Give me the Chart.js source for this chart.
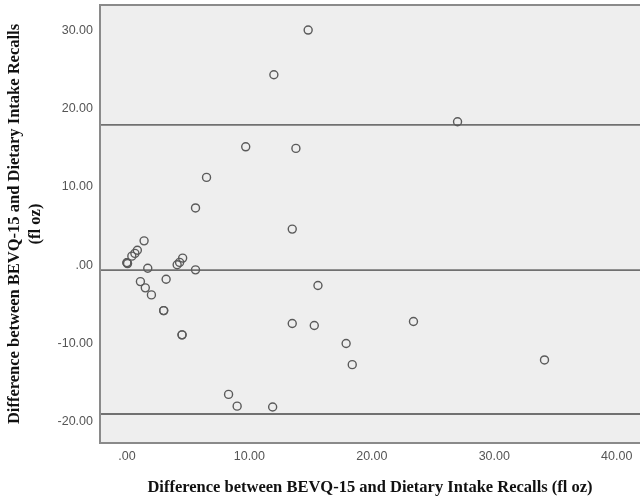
<!DOCTYPE html>
<html>
<head>
<meta charset="utf-8">
<script src="https://cdn.jsdelivr.net/npm/chart.js@4"></script>
<style>
html,body{margin:0;padding:0;background:#fff;}
#wrap{width:640px;height:498px;position:relative;}
</style>
</head>
<body>
<div id="wrap"><canvas id="c" width="640" height="498"></canvas></div>
<script>
// Data (x = mean/difference axis, y = difference)
const xValues = [14.8, 12.0, 27.0, 9.7, 13.8, 6.5, 5.6, 13.5, 1.4, 0.85, 0.65, 0.4, 0.0, 0.0, 0.05,
  1.7, 4.55, 4.3, 4.1, 5.6, 1.1, 1.5, 2.0, 3.2, 3.0, 3.0, 4.5, 4.5, 8.3, 9.0, 11.9, 13.5, 15.3, 15.6,
  23.4, 17.9, 18.4, 34.1];
const yValues = [30.0, 24.3, 18.3, 15.1, 14.9, 11.2, 7.3, 4.6, 3.1, 1.9, 1.5, 1.15, 0.3, 0.3, 0.2,
  -0.4, 0.9, 0.35, 0.05, -0.6, -2.1, -2.9, -3.8, -1.8, -5.8, -5.8, -8.9, -8.9, -16.5, -18.0, -18.1,
  -7.45, -7.7, -2.6, -7.2, -10.0, -12.7, -12.1];
const meanDiff = -0.64;
const upperLoA = 17.9;
const lowerLoA = -19.0;
const xTicks = [0, 10, 20, 30, 40];
const yTicks = [-20, -10, 0, 10, 20, 30];
const xRange = [-2.2, 41.9];
const yRange = [-22.7, 33.2];
const xTitle = 'Difference between BEVQ-15 and Dietary Intake Recalls (fl oz)';
const yTitle = ['Difference between BEVQ-15 and Dietary Intake Recalls', '(fl oz)'];

const points = xValues.map((x, i) => ({x: x, y: yValues[i]}));
const hline = v => [{x: xRange[0], y: v}, {x: xRange[1], y: v}];
const fmt = v => (v === 0 ? '.00' : v.toFixed(2));

const frame = {
  id: 'frame',
  beforeDatasetsDraw(chart) {
    const a = chart.chartArea, ctx = chart.ctx;
    ctx.save();
    ctx.fillStyle = '#eeeeee';
    ctx.fillRect(a.left, a.top, a.right - a.left, a.bottom - a.top);
    ctx.restore();
  },
  afterDraw(chart) {
    const a = chart.chartArea, ctx = chart.ctx;
    ctx.save();
    ctx.strokeStyle = '#8a8a8a';
    ctx.lineWidth = 2;
    ctx.beginPath();
    ctx.moveTo(a.right, a.top);
    ctx.lineTo(a.left, a.top);
    ctx.lineTo(a.left, a.bottom);
    ctx.lineTo(a.right, a.bottom);
    ctx.stroke();
    ctx.restore();
  }
};

const lineDs = (v) => ({
  type: 'line', data: hline(v), borderColor: '#707070', borderWidth: 1.8,
  pointRadius: 0, fill: false, order: 2
});

new Chart(document.getElementById('c'), {
  type: 'scatter',
  data: {
    datasets: [
      { data: points, pointRadius: 4, pointBorderWidth: 1.4, borderColor: '#5a5a5a',
        backgroundColor: 'rgba(0,0,0,0)', pointHoverRadius: 4, order: 1 },
      lineDs(upperLoA), lineDs(meanDiff), lineDs(lowerLoA)
    ]
  },
  options: {
    responsive: false,
    animation: false,
    layout: { autoPadding: false, padding: { left: 0, right: 0, top: 5, bottom: 0 } },
    plugins: { legend: { display: false }, tooltip: { enabled: false } },
    scales: {
      x: {
        type: 'linear', min: xRange[0], max: xRange[1],
        afterBuildTicks: ax => { ax.ticks = xTicks.map(v => ({value: v})); },
        afterFit: ax => { ax.height = 55; ax.paddingLeft = 0; ax.paddingRight = 0; },
        grid: { display: false, drawTicks: false },
        border: { display: false },
        ticks: { callback: v => fmt(v), color: '#555', font: { family: 'Liberation Sans', size: 12.5 }, padding: 6, maxRotation: 0 },
        title: { display: true, text: xTitle, color: '#111', font: { family: 'Liberation Serif', size: 16.5, weight: 'bold' }, padding: { top: 8, bottom: 0 } }
      },
      y: {
        type: 'linear', min: yRange[0], max: yRange[1],
        afterBuildTicks: ax => { ax.ticks = yTicks.map(v => ({value: v})); },
        afterFit: ax => { ax.width = 100; ax.paddingTop = 0; ax.paddingBottom = 0; },
        grid: { display: false, drawTicks: false },
        border: { display: false },
        ticks: { callback: v => fmt(v), color: '#555', font: { family: 'Liberation Sans', size: 12.5 }, padding: 7 },
        title: { display: true, text: yTitle, color: '#111', font: { family: 'Liberation Serif', size: 16.5, weight: 'bold', lineHeight: 1.3 }, padding: { top: 4, bottom: 0 } }
      }
    }
  },
  plugins: [frame]
});
</script>
</body>
</html>
